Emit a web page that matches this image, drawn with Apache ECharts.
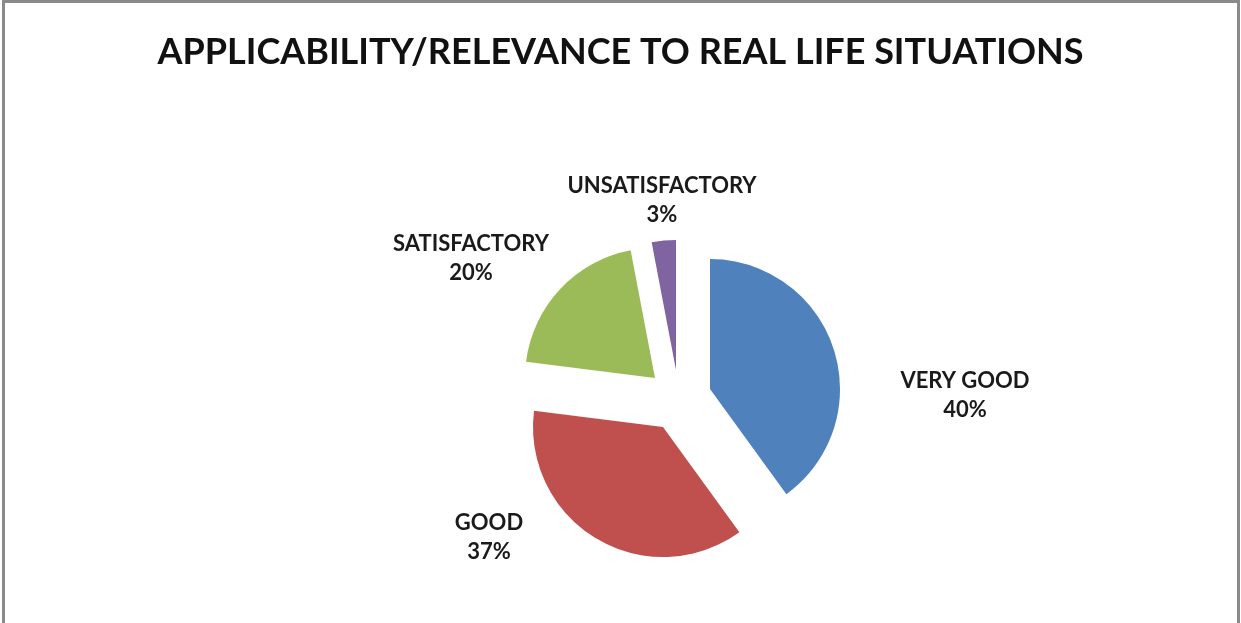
<!DOCTYPE html>
<html>
<head>
<meta charset="utf-8">
<script src="https://cdn.jsdelivr.net/npm/echarts@6/dist/echarts.min.js"></script>
<style>
  body { margin: 0; background: #fff; }
  #chart { width: 1241px; height: 623px; }
</style>
</head>
<body>
<div id="chart"></div>
<script>
var titleText = 'APPLICABILITY/RELEVANCE TO REAL LIFE SITUATIONS';
var categories = ['VERY GOOD', 'GOOD', 'SATISFACTORY', 'UNSATISFACTORY'];
var values = [40, 37, 20, 3];
var colors = ['#4F81BD', '#C0504D', '#9BBB59', '#8064A2'];

// each exploded slice gets its own pie centre (Excel explodes them unevenly)
var sliceCentres = [[710, 389], [663, 427], [655, 378], [676, 370]];
// where Excel placed each label (centre of the two-line block)
var labelAt = [[965, 395], [489, 537], [471, 258], [662, 200]];

var chart = echarts.init(document.getElementById('chart'));

var series = categories.map(function (name, i) {
    return {
        type: 'pie',
        silent: true,
        center: sliceCentres[i],
        radius: 130,
        startAngle: 90,
        clockwise: true,
        animation: false,
        labelLine: { show: false },
        labelLayout: function () {
            return { x: labelAt[i][0], y: labelAt[i][1], align: 'center', verticalAlign: 'middle' };
        },
        data: categories.map(function (c, j) {
            return {
                name: c,
                value: values[j],
                itemStyle: { color: j === i ? colors[j] : 'rgba(0,0,0,0)', borderWidth: 0 },
                label: {
                    show: j === i,
                    position: 'outside',
                    formatter: '{b}\n{d}%',
                    fontFamily: 'Lato',
                    fontWeight: 'bold',
                    fontSize: 22,
                    lineHeight: 29,
                    color: '#1a1a1a',
                    align: 'center'
                }
            };
        })
    };
});

chart.setOption({
    backgroundColor: '#fff',
    title: {
        text: titleText,
        left: 'center',
        top: 29,
        textStyle: { fontFamily: 'Lato', fontWeight: 'bold', fontSize: 36, color: '#111' }
    },
    graphic: [{
        type: 'rect',
        shape: { x: 3.5, y: 1.5, width: 1235, height: 660 },
        style: { fill: null, stroke: '#8a8a8a', lineWidth: 3 },
        silent: true
    }],
    series: series
});
</script>
</body>
</html>
